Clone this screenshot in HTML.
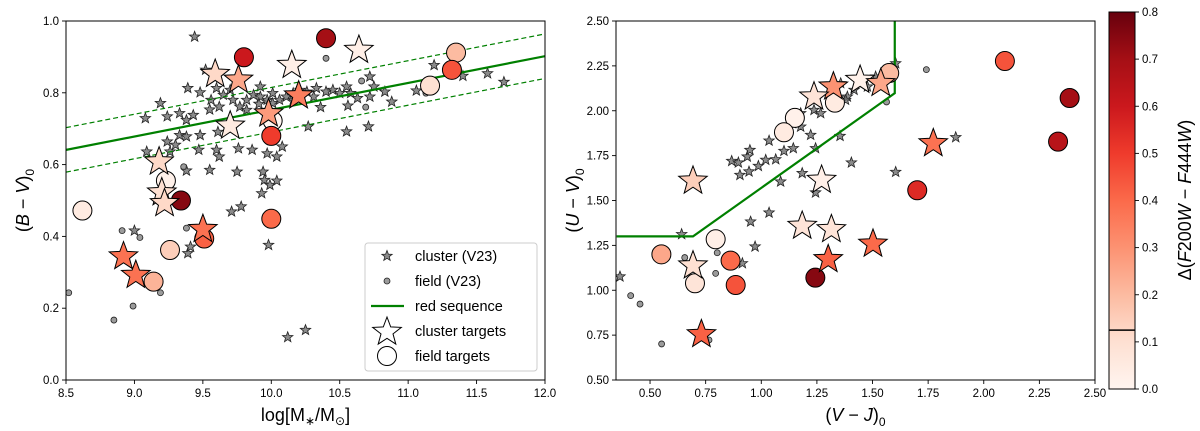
<!DOCTYPE html>
<html><head><meta charset="utf-8"><style>
html,body{margin:0;padding:0;background:#fff;}
svg{display:block;font-family:"Liberation Sans","DejaVu Sans",sans-serif;}
</style></head><body>
<svg id="fig" width="1200" height="431" viewBox="0 0 1200 431" xmlns="http://www.w3.org/2000/svg">
<defs>
<linearGradient id="cmap" x1="0" y1="1" x2="0" y2="0">
<stop offset="0" stop-color="#fff5f0"/><stop offset="0.125" stop-color="#fee0d2"/><stop offset="0.25" stop-color="#fcbba1"/><stop offset="0.375" stop-color="#fc9272"/><stop offset="0.5" stop-color="#fb6a4a"/><stop offset="0.625" stop-color="#ef3b2c"/><stop offset="0.75" stop-color="#cb181d"/><stop offset="0.875" stop-color="#a50f15"/><stop offset="1" stop-color="#67000d"/>
</linearGradient>
<clipPath id="clipL"><rect x="66" y="21" width="479" height="359"/></clipPath>
<clipPath id="clipR"><rect x="616" y="21" width="479" height="359"/></clipPath>
</defs>
<g id="left"></g>
<g id="right"></g>
<g id="cbar"></g>
</svg>
<script>
// ---------- Left panel data ----------
const lClusterM=[9.44,9.08,9.19,9.24,9.39,9.48,9.52,9.33,9.38,9.43,9.56,9.60,9.65,9.70,9.77,9.82,9.87,9.92,9.97,10.01,10.06,10.11,10.16,10.26,10.33,10.36,10.40,10.45,10.50,10.55,10.58,10.56,10.63,10.72,10.75,10.72,10.83,10.88,11.06,11.19,11.40,11.58,11.70,10.71,10.55,10.27,10.08,10.04,9.97,9.86,9.76,9.75,9.55,9.38,9.47,9.60,9.62,9.94,9.95,9.99,10.04,9.93,9.78,9.71,9.98,9.39,9.41,9.00,9.09,9.24,9.30,9.33,9.38,9.48,9.61,9.26,10.12,10.25,9.55,9.62,9.72,9.92,9.97,9.82,9.91,10.16,10.31,10.01,10.21];
const lClusterBV=[0.956,0.729,0.771,0.734,0.813,0.801,0.864,0.743,0.724,0.738,0.780,0.813,0.794,0.808,0.761,0.780,0.794,0.817,0.780,0.799,0.780,0.789,0.799,0.803,0.813,0.760,0.803,0.808,0.799,0.817,0.799,0.764,0.785,0.845,0.817,0.789,0.803,0.775,0.806,0.877,0.847,0.854,0.830,0.706,0.692,0.706,0.650,0.622,0.631,0.641,0.645,0.580,0.585,0.583,0.641,0.641,0.622,0.580,0.557,0.543,0.555,0.520,0.483,0.469,0.376,0.353,0.371,0.416,0.636,0.664,0.655,0.682,0.678,0.682,0.691,0.636,0.119,0.139,0.753,0.761,0.780,0.789,0.752,0.752,0.769,0.780,0.789,0.771,0.808];
const lFieldM=[8.52,8.91,9.04,8.85,8.99,9.19,9.36,9.38,10.40,10.66,10.69,11.13];
const lFieldBV=[0.243,0.416,0.397,0.167,0.206,0.243,0.594,0.423,0.896,0.833,0.760,0.799];
const lTgtCircM=[8.62,9.80,10.40,11.35,11.32,11.16,10.01,10.00,9.23,9.34,10.00,9.51,9.26,9.14];
const lTgtCircBV=[0.472,0.899,0.952,0.912,0.864,0.820,0.722,0.680,0.555,0.500,0.449,0.394,0.362,0.274];
const lTgtCircC=[0.05,0.6,0.7,0.2,0.45,0.1,0.0,0.5,0.02,0.75,0.4,0.42,0.15,0.22];
const lTgtStarM=[9.59,9.76,10.15,10.64,10.20,9.98,9.70,9.18,9.20,9.22,9.50,8.92,9.01];
const lTgtStarBV=[0.852,0.836,0.877,0.919,0.792,0.742,0.708,0.608,0.522,0.492,0.420,0.344,0.292];
const lTgtStarC=[0.12,0.25,0.03,0.03,0.35,0.28,0.05,0.12,0.1,0.12,0.38,0.38,0.38];
const rsM=[8.5,12.0];
const rsBV=[0.641,0.902];
const rsOffset=0.062;
const lXTicks=[8.5,9.0,9.5,10.0,10.5,11.0,11.5,12.0];
const lXTickLabels=["8.5","9.0","9.5","10.0","10.5","11.0","11.5","12.0"];
const lYTicks=[0,0.2,0.4,0.6,0.8,1.0];
const lYTickLabels=["0.0","0.2","0.4","0.6","0.8","1.0"];
// ---------- Right panel data ----------
const rClusterVJ=[0.365,0.642,0.867,0.897,0.937,0.949,0.904,0.945,0.987,1.020,1.065,1.035,1.102,1.144,1.222,1.244,1.354,1.405,1.184,1.087,1.244,0.952,1.035,0.972,0.915,1.604,1.874,1.177,1.237,1.267,1.327,1.387,1.417,1.477,1.514,1.604,1.177,1.357,1.379,1.140];
const rClusterUV=[1.076,1.312,1.720,1.711,1.744,1.781,1.642,1.661,1.692,1.726,1.729,1.833,1.776,1.791,1.865,1.791,1.859,1.711,1.652,1.605,1.544,1.382,1.432,1.243,1.150,1.659,1.852,1.911,2.004,1.986,2.060,2.078,2.116,2.134,2.190,2.264,1.986,2.153,2.060,1.930];
const rFieldVJ=[1.742,1.563,0.413,0.455,0.552,0.656,0.802,0.795,0.765];
const rFieldUV=[2.229,2.049,0.970,0.923,0.701,1.182,1.209,1.094,0.723];
const rTgtCircVJ=[2.095,2.386,2.334,1.701,1.575,1.331,1.151,1.102,1.243,0.795,0.551,0.862,0.885,0.702];
const rTgtCircUV=[2.277,2.071,1.828,1.557,2.210,2.045,1.960,1.880,1.070,1.284,1.200,1.165,1.029,1.039];
const rTgtCircC=[0.45,0.7,0.65,0.55,0.2,0.05,0.02,0.05,0.75,0.03,0.25,0.4,0.45,0.08];
const rTgtStarVJ=[1.324,1.237,1.444,1.537,0.693,1.271,1.773,1.184,1.315,1.502,1.301,0.693,0.731];
const rTgtStarUV=[2.134,2.078,2.171,2.153,1.609,1.614,1.818,1.358,1.339,1.258,1.172,1.137,0.754];
const rTgtStarC=[0.3,0.08,0.02,0.25,0.15,0.03,0.38,0.08,0.08,0.4,0.42,0.1,0.42];
const uvjVJ=[0.35,0.693,1.6,1.6];
const uvjUV=[1.3,1.3,2.098,2.5];
const rXTicks=[0.5,0.75,1.0,1.25,1.5,1.75,2.0,2.25,2.5];
const rXTickLabels=["0.50","0.75","1.00","1.25","1.50","1.75","2.00","2.25","2.50"];
const rYTicks=[0.5,0.75,1.0,1.25,1.5,1.75,2.0,2.25,2.5];
const rYTickLabels=["0.50","0.75","1.00","1.25","1.50","1.75","2.00","2.25","2.50"];
// ---------- Colorbar ----------
const cbTicks=[0,0.1,0.2,0.3,0.4,0.5,0.6,0.7,0.8];
const cbTickLabels=["0.0","0.1","0.2","0.3","0.4","0.5","0.6","0.7","0.8"];
const cbLine=0.125;

const NS="http://www.w3.org/2000/svg";
function mk(parent,tag,attrs){const e=document.createElementNS(NS,tag);for(const k in attrs)e.setAttribute(k,attrs[k]);parent.appendChild(e);return e;}
const stops=[[0,[255,245,240]],[0.125,[254,224,210]],[0.25,[252,187,161]],[0.375,[252,146,114]],[0.5,[251,106,74]],[0.625,[239,59,44]],[0.75,[203,24,29]],[0.875,[165,15,21]],[1,[103,0,13]]];
function cmap(v){let t=Math.max(0,Math.min(1,v/0.8));for(let i=0;i<stops.length-1;i++){if(t<=stops[i+1][0]){const a=stops[i],b=stops[i+1];const f=(t-a[0])/(b[0]-a[0]);const c=a[1].map((x,j)=>Math.round(x+(b[1][j]-x)*f));return `rgb(${c[0]},${c[1]},${c[2]})`;}}return "rgb(103,0,13)";}
function starPts(cx,cy,R){const r=R*0.42;let p=[];for(let i=0;i<10;i++){const a=-Math.PI/2+i*Math.PI/5;const rr=i%2?r:R;p.push((cx+rr*Math.cos(a)).toFixed(1)+","+(cy+rr*Math.sin(a)).toFixed(1));}return p.join(" ");}

function panel(g,ax,xs,ys,xt,xtl,yt,ytl,xlabel,ylabel,clip){
  const X=v=>ax.x0+(v-xs[0])/(xs[1]-xs[0])*ax.w;
  const Y=v=>ax.y0+ax.h-(v-ys[0])/(ys[1]-ys[0])*ax.h;
  xt.forEach((t,i)=>{const x=X(t);
    const tk=mk(g,'line',{x1:x,x2:x,y1:ax.y0+ax.h,y2:ax.y0+ax.h+4,stroke:'#000','stroke-width':0.9});
    
    
    const tl=mk(g,'text',{x:x,y:ax.y0+ax.h+17,'font-size':11.5,'text-anchor':'middle'});tl.textContent=xtl[i];
    
    });
  yt.forEach((t,i)=>{const y=Y(t);
    const tk=mk(g,'line',{x1:ax.x0-4,x2:ax.x0,y1:y,y2:y,stroke:'#000','stroke-width':0.9});
    
    
    const tl=mk(g,'text',{x:ax.x0-7,y:y+4,'font-size':11.5,'text-anchor':'end'});tl.textContent=ytl[i];
    
    });
  const xl=mk(g,'text',{x:ax.x0+ax.w/2,y:421,'font-size':18,'text-anchor':'middle'});xl.innerHTML=xlabel;
  
  
  const yl=mk(g,'text',{x:0,y:0,'font-size':18,'text-anchor':'middle',transform:`translate(${ax.x0-37},${ax.y0+ax.h/2}) rotate(-90)`});yl.innerHTML=ylabel;
  
  
  const plot=mk(g,'g',{'clip-path':`url(#${clip})`});
  
  
  return {X,Y,plot};
}
function bg(plot,X,Y,sx,sy,fx,fy){
  sx.forEach((v,i)=>{const s=mk(plot,'polygon',{points:starPts(X(v),Y(sy[i]),5.5),fill:'rgba(110,110,110,0.8)',stroke:'#222','stroke-width':0.8});
    
    });
  fx.forEach((v,i)=>{const c=mk(plot,'circle',{cx:X(v),cy:Y(fy[i]),r:3,fill:'rgba(130,130,130,0.8)',stroke:'#222','stroke-width':0.8});
    
    });
}
function targets(plot,X,Y,cx,cy,cc,sx,sy,sc){
  cx.forEach((v,i)=>{const c=mk(plot,'circle',{cx:X(v),cy:Y(cy[i]),r:9.5,fill:cmap(cc[i]),stroke:'#000','stroke-width':1});
    
    });
  sx.forEach((v,i)=>{const s=mk(plot,'polygon',{points:starPts(X(v),Y(sy[i]),15),fill:cmap(sc[i]),stroke:'#000','stroke-width':1});
    
    });
}

// Left
const gL=document.getElementById('left');
const axL={x0:66,y0:21,w:479,h:359};
const L=panel(gL,axL,[8.5,12.0],[0,1.0],lXTicks,lXTickLabels,lYTicks,lYTickLabels,'log[<tspan font-style="normal">M</tspan><tspan font-size="12" dy="4">∗</tspan><tspan dy="-4">/M</tspan><tspan font-size="12" dy="4">⊙</tspan><tspan dy="-4">]</tspan>','(<tspan font-style="italic">B</tspan> − <tspan font-style="italic">V</tspan>)<tspan font-size="12" dy="5">0</tspan>','clipL');
bg(L.plot,L.X,L.Y,lClusterM,lClusterBV,lFieldM,lFieldBV);
[[0,'none','red-sequence-line'],[rsOffset,'5,3','red-sequence-upper'],[-rsOffset,'5,3','red-sequence-lower']].forEach(o=>{
  const ln=mk(L.plot,'line',{x1:L.X(rsM[0]),y1:L.Y(rsBV[0]+o[0]),x2:L.X(rsM[1]),y2:L.Y(rsBV[1]+o[0]),stroke:'#008000','stroke-width':o[0]===0?2.2:1.2,'stroke-dasharray':o[1]});
  
  });
targets(L.plot,L.X,L.Y,lTgtCircM,lTgtCircBV,lTgtCircC,lTgtStarM,lTgtStarBV,lTgtStarC);
const fL=mk(gL,'rect',{x:66,y:21,width:479,height:359,fill:'none',stroke:'#000','stroke-width':1});


// legend
const lg=mk(gL,'g',{});


mk(lg,'rect',{x:365,y:243,width:172,height:128,rx:3,fill:'rgba(255,255,255,0.85)',stroke:'#ccc','stroke-width':1});
const legItems=['cluster (V23)','field (V23)','red sequence','cluster targets','field targets'];
legItems.forEach((t,i)=>{const y=256+i*25;
  const e=mk(lg,'g',{});
  
  
  if(i===0)mk(e,'polygon',{points:starPts(387,y,5.5),fill:'rgba(110,110,110,0.8)',stroke:'#222','stroke-width':0.8});
  if(i===1)mk(e,'circle',{cx:387,cy:y,r:3,fill:'rgba(130,130,130,0.8)',stroke:'#222','stroke-width':0.8});
  if(i===2)mk(e,'line',{x1:371,x2:404,y1:y,y2:y,stroke:'#008000','stroke-width':2.2});
  if(i===3)mk(e,'polygon',{points:starPts(387,y+1,15),fill:'#fff',stroke:'#000','stroke-width':1});
  if(i===4)mk(e,'circle',{cx:387,cy:y,r:9.5,fill:'#fff',stroke:'#000','stroke-width':1});
  const tx=mk(e,'text',{x:415,y:y+5,'font-size':14.5});tx.textContent=t;});

// Right
const gR=document.getElementById('right');
const axR={x0:616,y0:21,w:479,h:359};
const R=panel(gR,axR,[0.347,2.5],[0.5,2.5],rXTicks,rXTickLabels,rYTicks,rYTickLabels,'(<tspan font-style="italic">V</tspan> − <tspan font-style="italic">J</tspan>)<tspan font-size="12" dy="5">0</tspan>','(<tspan font-style="italic">U</tspan> − <tspan font-style="italic">V</tspan>)<tspan font-size="12" dy="5">0</tspan>','clipR');
bg(R.plot,R.X,R.Y,rClusterVJ,rClusterUV,rFieldVJ,rFieldUV);
const uvj=mk(R.plot,'polyline',{points:uvjVJ.map((v,i)=>R.X(v)+','+R.Y(uvjUV[i])).join(' '),fill:'none',stroke:'#008000','stroke-width':2.2});


targets(R.plot,R.X,R.Y,rTgtCircVJ,rTgtCircUV,rTgtCircC,rTgtStarVJ,rTgtStarUV,rTgtStarC);
const fR=mk(gR,'rect',{x:616,y:21,width:479,height:359,fill:'none',stroke:'#000','stroke-width':1});



// Colorbar
const gC=document.getElementById('cbar');
const cb={x:1109,y:12,w:26,h:377};
const CY=v=>cb.y+cb.h-v/0.8*cb.h;
mk(gC,'rect',{x:cb.x,y:cb.y,width:cb.w,height:cb.h,fill:'url(#cmap)',stroke:'#000','stroke-width':1});
const cl=mk(gC,'line',{x1:cb.x,x2:cb.x+cb.w,y1:CY(cbLine),y2:CY(cbLine),stroke:'#000','stroke-width':1.5});


cbTicks.forEach((t,i)=>{const y=CY(t);
  mk(gC,'line',{x1:cb.x+cb.w,x2:cb.x+cb.w+4,y1:y,y2:y,stroke:'#000','stroke-width':0.9});
  const tl=mk(gC,'text',{x:cb.x+cb.w+7,y:y+4,'font-size':11.5});tl.textContent=cbTickLabels[i];
  
  });
const ct=mk(gC,'text',{x:0,y:0,'font-size':18,'text-anchor':'middle',transform:`translate(1191,200) rotate(-90)`});
ct.innerHTML='Δ(<tspan font-style="italic">F</tspan>200<tspan font-style="italic">W</tspan> − <tspan font-style="italic">F</tspan>444<tspan font-style="italic">W</tspan>)';


</script>
</body></html>
